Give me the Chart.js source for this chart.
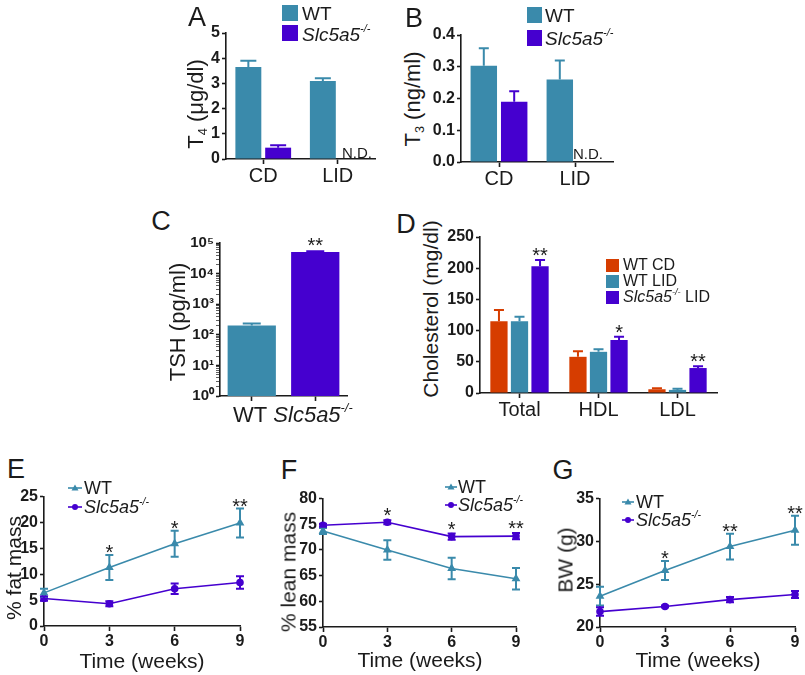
<!DOCTYPE html>
<html>
<head>
<meta charset="utf-8">
<script src="https://cdn.jsdelivr.net/npm/chart.js@4.4.1/dist/chart.umd.min.js"></script>
<style>
  body { margin: 0; background: #fff; width: 805px; height: 675px; position: relative; overflow: hidden;
         font-family: "Liberation Sans", Arial, Helvetica, sans-serif; color: #1b1b1b; }
  canvas { position: absolute; }
  .t { position: absolute; white-space: nowrap; line-height: 1; }
  .c { transform: translate(-50%, -50%); }
  .l { transform: translate(0, -50%); }
  .rot { transform: translate(-50%, -50%) rotate(-90deg); }
  .sq { position: absolute; }
  sup { font-size: 58%; vertical-align: 0.75em; line-height: 0; }
  sub { font-size: 58%; vertical-align: -0.3em; line-height: 0; }
</style>
</head>
<body>
<script>
const F = '"Liberation Sans", Arial, Helvetica, sans-serif';
const INK = '#1b1b1b';
const TEAL = '#3a8aab';
const PURPLE = '#4500cf';
const ORANGE = '#d63d00';

// A - T4
const dietCats = ['CD', 'LID'];
const t4WT = [3.65, 3.1];
const t4WTErr = [0.25, 0.1];
const t4KO = [0.45, null];
const t4KOErr = [0.1, null];

// B - T3
const t3WT = [0.303, 0.26];
const t3WTErr = [0.055, 0.06];
const t3KO = [0.19, null];
const t3KOErr = [0.033, null];

// C - TSH (log)
const tshCats = ['WT', 'Slc5a5-/-'];
const tsh = [202, 51000];
const tshErr = [32, 3000];
const tshSig = ['', '**'];

// D - cholesterol
const cholCats = ['Total', 'HDL', 'LDL'];
const cholWTCD = [115, 58, 6];
const cholWTCDErr = [18, 9, 1.5];
const cholWTLID = [115, 66, 5];
const cholWTLIDErr = [7, 4, 2];
const cholKOLID = [203, 85, 40];
const cholKOLIDErr = [10, 5, 3];
const cholSig = ['**', '*', '**'];

// E-G - time course
const weeks = [0, 3, 6, 9];
const weekTicks = [0, 3, 6, 9];
const fatWT = [6.4, 11.3, 15.9, 19.9];
const fatWTErr = [0.8, 2.4, 2.5, 2.8];
const fatKO = [5.3, 4.3, 7.2, 8.4];
const fatKOErr = [0.4, 0.5, 1.0, 1.2];
const fatSig = ['', '*', '*', '**'];

const leanWT = [73.7, 70.0, 66.4, 64.4];
const leanWTErr = [0.6, 1.9, 2.1, 2.1];
const leanKO = [74.8, 75.4, 72.6, 72.7];
const leanKOErr = [0.3, 0.4, 0.6, 0.6];
const leanSig = ['', '*', '*', '**'];

const bwWT = [23.6, 26.6, 29.4, 31.3];
const bwWTErr = [1.1, 1.1, 1.5, 1.7];
const bwKO = [21.8, 22.4, 23.2, 23.8];
const bwKOErr = [0.5, 0.1, 0.3, 0.4];
const bwSig = ['', '*', '**', '**'];

function val(d) { return d !== null && typeof d === 'object' ? d.y : d; }

// error bars (bars: upward only, lines: both ways)
const errorBars = {
  id: 'errorBars',
  afterDatasetsDraw(chart) {
    const o = chart.options.plugins.errorBars || {};
    const ctx = chart.ctx, ys = chart.scales.y;
    chart.data.datasets.forEach((ds, i) => {
      if (!ds.errors) return;
      const meta = chart.getDatasetMeta(i);
      meta.data.forEach((el, j) => {
        const v = val(ds.data[j]), e = ds.errors[j];
        if (v == null || e == null) return;
        const col = Array.isArray(ds.backgroundColor) ? ds.backgroundColor[j] : ds.backgroundColor;
        const x = el.x;
        const yTop = ys.getPixelForValue(v + e);
        const yBot = o.both ? ys.getPixelForValue(v - e) : el.y;
        ctx.save();
        ctx.strokeStyle = col;
        ctx.lineWidth = o.width || 2;
        ctx.beginPath();
        ctx.moveTo(x, yTop); ctx.lineTo(x, yBot);
        ctx.moveTo(x - o.cap, yTop); ctx.lineTo(x + o.cap, yTop);
        if (o.both) { ctx.moveTo(x - o.cap, yBot); ctx.lineTo(x + o.cap, yBot); }
        ctx.stroke();
        ctx.restore();
      });
    });
  }
};

// significance asterisks
const sigMarks = {
  id: 'sigMarks',
  afterDatasetsDraw(chart) {
    const o = chart.options.plugins.sigMarks;
    if (!o || !o.labels) return;
    const ctx = chart.ctx, ys = chart.scales.y;
    const ds = chart.data.datasets[o.dataset];
    const meta = chart.getDatasetMeta(o.dataset);
    ctx.save();
    ctx.font = '20px ' + F;
    ctx.fillStyle = INK;
    ctx.textAlign = 'center';
    ctx.textBaseline = 'alphabetic';
    o.labels.forEach((s, j) => {
      if (!s) return;
      const v = val(ds.data[j]);
      const e = ds.errors ? (ds.errors[j] || 0) : 0;
      ctx.fillText(s, meta.data[j].x, ys.getPixelForValue(v + e) + o.offset);
    });
    ctx.restore();
  }
};

Chart.register(errorBars, sigMarks);

function panel(box, cfg) {
  const c = document.createElement('canvas');
  const w = box.R - box.L + box.yw + box.pr;
  const h = box.B - box.T + box.pt + box.xh;
  c.width = w; c.height = h;
  c.style.left = (box.L - box.yw) + 'px';
  c.style.top = (box.T - box.pt) + 'px';
  c.style.width = w + 'px';
  c.style.height = h + 'px';
  document.body.appendChild(c);
  const opt = cfg.options;
  opt.responsive = false;
  opt.animation = false;
  opt.events = [];
  opt.layout = { autoPadding: false, padding: { top: box.pt, right: box.pr, left: 0, bottom: 0 } };
  opt.plugins = Object.assign({ legend: { display: false }, tooltip: { enabled: false } }, opt.plugins);
  opt.scales.y.afterFit = s => { s.width = box.yw; };
  opt.scales.x.afterFit = s => { s.height = box.xh; };
  return new Chart(c, cfg);
}

function axisStyle(tickLen, font, pad) {
  return {
    border: { display: true, color: INK, width: 1.6 },
    grid: { drawOnChartArea: false, drawTicks: true, tickLength: tickLen, color: INK, tickWidth: 1.6 },
    ticks: { color: INK, font: font, padding: pad }
  };
}
const boldTick = { family: F, size: 16, weight: 'bold' };
const catTick = { family: F, size: 20 };

function barX() {
  const s = axisStyle(5, catTick, 0);
  s.type = 'category';
  s.grid.offset = false;
  return s;
}
function linY(min, max, step, fmt) {
  const s = axisStyle(4, boldTick, 2);
  s.min = min; s.max = max;
  s.ticks.stepSize = step;
  if (fmt) s.ticks.callback = fmt;
  return s;
}

// ---- A ----
panel({ L: 226, R: 375, T: 33, B: 159, yw: 24, xh: 30, pt: 12, pr: 4 }, {
  type: 'bar',
  data: { labels: dietCats, datasets: [
    { data: t4WT, errors: t4WTErr, backgroundColor: TEAL },
    { data: t4KO, errors: t4KOErr, backgroundColor: PURPLE }
  ] },
  options: {
    datasets: { bar: { categoryPercentage: 0.8, barPercentage: 0.87 } },
    plugins: { errorBars: { cap: 8, width: 2 } },
    scales: { x: barX(), y: linY(0, 5, 1) }
  }
});

// ---- B ----
panel({ L: 461, R: 613, T: 35, B: 162, yw: 34, xh: 30, pt: 12, pr: 4 }, {
  type: 'bar',
  data: { labels: dietCats, datasets: [
    { data: t3WT, errors: t3WTErr, backgroundColor: TEAL },
    { data: t3KO, errors: t3KOErr, backgroundColor: PURPLE }
  ] },
  options: {
    datasets: { bar: { categoryPercentage: 0.8, barPercentage: 0.87 } },
    plugins: { errorBars: { cap: 5, width: 2 } },
    scales: { x: barX(), y: linY(0, 0.4, 0.1, v => v.toFixed(1)) }
  }
});

// ---- C ----
const SUP = { 0: '\u2070', 1: '\u00b9', 2: '\u00b2', 3: '\u00b3', 4: '\u2074', 5: '\u2075' };
function isPow10(v) { const l = Math.log10(v); return Math.abs(l - Math.round(l)) < 1e-9; }
const cY = axisStyle(4, { family: F, size: 15, weight: 'bold' }, 2);
cY.type = 'logarithmic';
cY.min = 1; cY.max = 100000;
cY.ticks.autoSkip = false;
cY.ticks.callback = v => isPow10(v) ? '10' + SUP[Math.round(Math.log10(v))] : '';
cY.grid.tickWidth = ctx => (ctx.tick && isPow10(ctx.tick.value)) ? 1.6 : 0.7;
cY.afterBuildTicks = s => {
  const t = [];
  for (let e = 0; e < 5; e++) for (let m = 1; m < 10; m++) t.push({ value: m * Math.pow(10, e) });
  t.push({ value: 100000 });
  s.ticks = t;
};
const cX = barX();
cX.ticks.display = false;
panel({ L: 220, R: 347, T: 243, B: 397, yw: 38, xh: 10, pt: 12, pr: 4 }, {
  type: 'bar',
  data: { labels: tshCats, datasets: [
    { data: tsh, errors: tshErr, backgroundColor: [TEAL, PURPLE] }
  ] },
  options: {
    datasets: { bar: { categoryPercentage: 0.8, barPercentage: 0.95 } },
    plugins: { errorBars: { cap: 9, width: 2 }, sigMarks: { dataset: 0, labels: tshSig, offset: 1 } },
    scales: { x: cX, y: cY }
  }
});

// ---- D ----
panel({ L: 480, R: 717, T: 237, B: 393, yw: 38, xh: 30, pt: 12, pr: 4 }, {
  type: 'bar',
  data: { labels: cholCats, datasets: [
    { data: cholWTCD, errors: cholWTCDErr, backgroundColor: ORANGE },
    { data: cholWTLID, errors: cholWTLIDErr, backgroundColor: TEAL },
    { data: cholKOLID, errors: cholKOLIDErr, backgroundColor: PURPLE }
  ] },
  options: {
    datasets: { bar: { categoryPercentage: 0.78, barPercentage: 0.84 } },
    plugins: { errorBars: { cap: 5, width: 2 }, sigMarks: { dataset: 2, labels: cholSig, offset: 2 } },
    scales: { x: barX(), y: linY(0, 250, 50) }
  }
});

// ---- E, F, G ----
function timeChart(box, wt, wtErr, ko, koErr, ymin, ymax, sig, sigSet, sigOff) {
  const x = axisStyle(5, boldTick, 1);
  x.type = 'linear'; x.min = 0; x.max = 9;
  x.afterBuildTicks = s => { s.ticks = weekTicks.map(v => ({ value: v })); };
  return panel(box, {
    type: 'line',
    data: { datasets: [
      { data: weeks.map((w, i) => ({ x: w, y: wt[i] })), errors: wtErr, borderColor: TEAL, backgroundColor: TEAL,
        borderWidth: 1.6, pointStyle: 'triangle', pointRadius: 3.5, tension: 0 },
      { data: weeks.map((w, i) => ({ x: w, y: ko[i] })), errors: koErr, borderColor: PURPLE, backgroundColor: PURPLE,
        borderWidth: 1.6, pointStyle: 'circle', pointRadius: 3, tension: 0 }
    ] },
    options: {
      clip: false,
      plugins: { errorBars: { cap: 4, width: 2, both: true }, sigMarks: { dataset: sigSet, labels: sig, offset: sigOff } },
      scales: { x: x, y: linY(ymin, ymax, 5) }
    }
  });
}
timeChart({ L: 44, R: 240, T: 495, B: 626, yw: 30, xh: 26, pt: 10, pr: 8 },
  fatWT, fatWTErr, fatKO, fatKOErr, 0, 25, fatSig, 0, 4);
timeChart({ L: 323, R: 516, T: 497, B: 627, yw: 30, xh: 26, pt: 10, pr: 8 },
  leanWT, leanWTErr, leanKO, leanKOErr, 55, 80, leanSig, 1, 2);
timeChart({ L: 600, R: 795, T: 497, B: 627, yw: 30, xh: 26, pt: 10, pr: 8 },
  bwWT, bwWTErr, bwKO, bwKOErr, 20, 35, bwSig, 0, 4);

// ---- text overlays ----
function txt(html, x, y, cls, size) {
  const d = document.createElement('div');
  d.className = 't ' + cls;
  d.innerHTML = html;
  d.style.left = x + 'px';
  d.style.top = y + 'px';
  d.style.fontSize = size + 'px';
  document.body.appendChild(d);
}
function square(x, y, w, h, color) {
  const d = document.createElement('div');
  d.className = 'sq';
  Object.assign(d.style, { left: x + 'px', top: y + 'px', width: w + 'px', height: h + 'px', background: color });
  document.body.appendChild(d);
}
function lineKey(x1, x2, y, color, shape) {
  const ns = 'http://www.w3.org/2000/svg';
  const s = document.createElementNS(ns, 'svg');
  const w = x2 - x1 + 2, m = w / 2;
  s.setAttribute('width', w);
  s.setAttribute('height', 12);
  s.style.position = 'absolute';
  s.style.left = (x1 - 1) + 'px';
  s.style.top = (y - 6) + 'px';
  let inner = '<line x1="1" y1="6" x2="' + (w - 1) + '" y2="6" stroke="' + color + '" stroke-width="1.6"/>';
  if (shape === 'tri') inner += '<polygon points="' + m + ',2.5 ' + (m + 3.5) + ',8.5 ' + (m - 3.5) + ',8.5" fill="' + color + '"/>';
  else inner += '<circle cx="' + m + '" cy="6" r="3" fill="' + color + '"/>';
  s.innerHTML = inner;
  document.body.appendChild(s);
}
const KO = '<i>Slc5a5<sup>-/-</sup></i>';

// panel letters
txt('A', 197, 17, 'c', 27);
txt('B', 414, 18, 'c', 27);
txt('C', 161, 221, 'c', 27);
txt('D', 406, 224, 'c', 27);
txt('E', 16, 469, 'c', 27);
txt('F', 289, 470, 'c', 27);
txt('G', 563, 470, 'c', 27);

// axis titles
txt('T<sub>4</sub> (\u03bcg/dl)', 196, 104, 'rot', 22);
txt('T<sub>3</sub> (ng/ml)', 413, 99, 'rot', 22);
txt('TSH (pg/ml)', 178, 322, 'rot', 22);
txt('Cholesterol (mg/dl)', 430, 309, 'rot', 21);
txt('% fat mass', 13, 568, 'rot', 21);
txt('% lean mass', 288, 572, 'rot', 21);
txt('BW (g)', 565, 560, 'rot', 21);
txt('Time (weeks)', 142, 660, 'c', 21);
txt('Time (weeks)', 420, 659, 'c', 21);
txt('Time (weeks)', 698, 659, 'c', 21);

// C category labels
txt(tshCats[0], 250, 415, 'c', 22);
txt(KO, 313, 415, 'c', 22);

// N.D.
txt('N.D.', 357, 152, 'c', 15);
txt('N.D.', 588, 153, 'c', 15);

// legends A, B
square(282, 5, 16, 16, TEAL); txt('WT', 302, 13, 'l', 19);
square(282, 25, 16, 16, PURPLE); txt(KO, 302, 34, 'l', 19);
square(527, 7, 15, 16, TEAL); txt('WT', 545, 15, 'l', 19);
square(527, 30, 15, 16, PURPLE); txt(KO, 545, 38, 'l', 19);

// legend D
square(606, 259, 13, 13, ORANGE); txt('WT CD', 623, 265, 'l', 16);
square(606, 275, 13, 13, TEAL); txt('WT LID', 623, 281, 'l', 16);
square(606, 291, 13, 13, PURPLE); txt(KO + ' LID', 623, 297, 'l', 16);

// legends E, F, G
lineKey(68, 82, 488, TEAL, 'tri'); txt('WT', 84, 488, 'l', 18);
lineKey(68, 82, 507, PURPLE, 'dot'); txt(KO, 84, 507, 'l', 18);
lineKey(445, 457, 487, TEAL, 'tri'); txt('WT', 458, 487, 'l', 18);
lineKey(445, 457, 505, PURPLE, 'dot'); txt(KO, 458, 505, 'l', 18);
lineKey(622, 634, 502, TEAL, 'tri'); txt('WT', 636, 502, 'l', 18);
lineKey(622, 634, 520, PURPLE, 'dot'); txt(KO, 636, 520, 'l', 18);
</script>
</body>
</html>
